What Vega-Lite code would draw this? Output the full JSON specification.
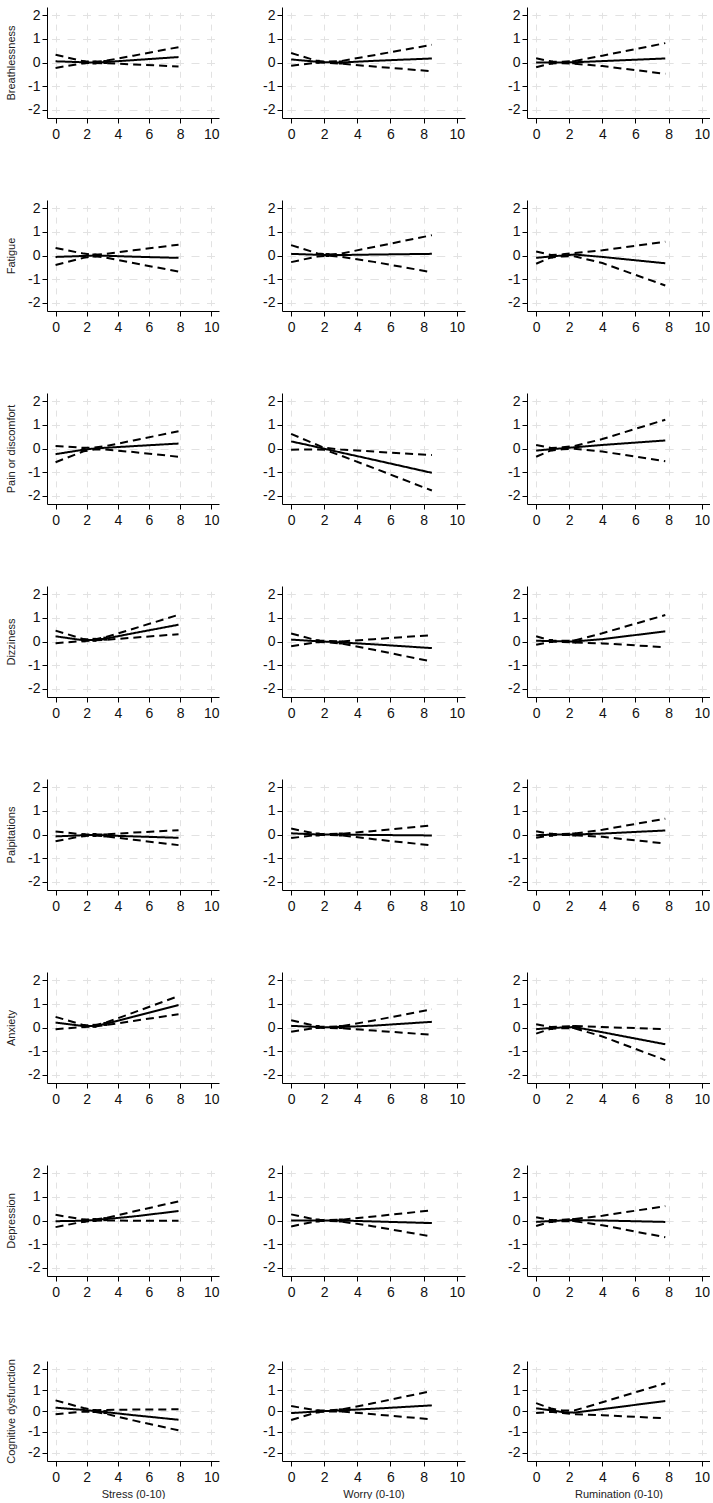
{
"$schema":"https://vega.github.io/schema/vega-lite/v6.json",
"padding":{"left":5,"top":7,"right":0,"bottom":0},
"background":"white",
"data":{"values":[
{"s":"B","p":"S","x":0,"e":0.05,"l":-0.23,"h":0.33},{"s":"B","p":"S","x":1.8,"e":0.01,"l":-0.03,"h":0.05,"k":1},{"s":"B","p":"S","x":2.5,"e":0,"l":-0.02,"h":0.03,"k":1},{"s":"B","p":"S","x":3.2,"e":0.02,"l":-0.03,"h":0.07,"k":1},{"s":"B","p":"S","x":5,"e":0.1,"l":-0.08,"h":0.29},{"s":"B","p":"S","x":7.9,"e":0.23,"l":-0.17,"h":0.65},
{"s":"B","p":"W","x":0,"e":0.13,"l":-0.14,"h":0.4},{"s":"B","p":"W","x":1.6,"e":0.03,"l":0,"h":0.06,"k":1},{"s":"B","p":"W","x":2.2,"e":0.01,"l":-0.02,"h":0.04},{"s":"B","p":"W","x":3,"e":0,"l":-0.05,"h":0.06,"k":1},{"s":"B","p":"W","x":5,"e":0.07,"l":-0.17,"h":0.31},{"s":"B","p":"W","x":8.5,"e":0.17,"l":-0.37,"h":0.75},
{"s":"B","p":"R","x":0,"e":0,"l":-0.2,"h":0.18},{"s":"B","p":"R","x":0.9,"e":0,"l":-0.04,"h":0.04,"k":1},{"s":"B","p":"R","x":1.6,"e":0,"l":-0.03,"h":0.03},{"s":"B","p":"R","x":2.3,"e":0.01,"l":-0.05,"h":0.06,"k":1},{"s":"B","p":"R","x":4,"e":0.06,"l":-0.15,"h":0.29},{"s":"B","p":"R","x":7.8,"e":0.17,"l":-0.48,"h":0.82},
{"s":"F","p":"S","x":0,"e":-0.06,"l":-0.4,"h":0.32},{"s":"F","p":"S","x":1.8,"e":-0.02,"l":-0.1,"h":0.08},{"s":"F","p":"S","x":2.5,"e":0,"l":-0.03,"h":0.03,"k":1},{"s":"F","p":"S","x":3.2,"e":-0.01,"l":-0.09,"h":0.07},{"s":"F","p":"S","x":5,"e":-0.05,"l":-0.32,"h":0.22},{"s":"F","p":"S","x":7.9,"e":-0.1,"l":-0.68,"h":0.46},
{"s":"F","p":"W","x":0,"e":0.07,"l":-0.28,"h":0.44},{"s":"F","p":"W","x":1.6,"e":0.03,"l":-0.04,"h":0.09},{"s":"F","p":"W","x":2.2,"e":0.02,"l":-0.01,"h":0.04,"k":1},{"s":"F","p":"W","x":3,"e":0.02,"l":-0.05,"h":0.08},{"s":"F","p":"W","x":5,"e":0.04,"l":-0.27,"h":0.36},{"s":"F","p":"W","x":8.5,"e":0.07,"l":-0.71,"h":0.86},
{"s":"F","p":"R","x":0,"e":-0.1,"l":-0.35,"h":0.17},{"s":"F","p":"R","x":0.9,"e":-0.04,"l":-0.08,"h":0.02,"k":1},{"s":"F","p":"R","x":1.6,"e":0,"l":-0.04,"h":0.05},{"s":"F","p":"R","x":2.3,"e":0.04,"l":-0.03,"h":0.1},{"s":"F","p":"R","x":4,"e":-0.06,"l":-0.32,"h":0.22},{"s":"F","p":"R","x":7.8,"e":-0.33,"l":-1.27,"h":0.58},
{"s":"P","p":"S","x":0,"e":-0.24,"l":-0.58,"h":0.11},{"s":"P","p":"S","x":1.8,"e":-0.05,"l":-0.12,"h":0.03,"k":1},{"s":"P","p":"S","x":2.5,"e":0,"l":-0.04,"h":0.04},{"s":"P","p":"S","x":3.2,"e":0.03,"l":-0.04,"h":0.1},{"s":"P","p":"S","x":5,"e":0.1,"l":-0.15,"h":0.34},{"s":"P","p":"S","x":7.9,"e":0.21,"l":-0.35,"h":0.73},
{"s":"P","p":"W","x":0,"e":0.3,"l":-0.05,"h":0.62},{"s":"P","p":"W","x":1,"e":0.15,"l":-0.04,"h":0.32},{"s":"P","p":"W","x":2,"e":-0.01,"l":-0.05,"h":0.03},{"s":"P","p":"W","x":3,"e":-0.17,"l":-0.3,"h":-0.04},{"s":"P","p":"W","x":5,"e":-0.48,"l":-0.83,"h":-0.13},{"s":"P","p":"W","x":8.5,"e":-1.03,"l":-1.78,"h":-0.28},
{"s":"P","p":"R","x":0,"e":-0.09,"l":-0.35,"h":0.15},{"s":"P","p":"R","x":0.9,"e":-0.03,"l":-0.08,"h":0.02,"k":1},{"s":"P","p":"R","x":1.6,"e":0.01,"l":-0.03,"h":0.05},{"s":"P","p":"R","x":2.3,"e":0.05,"l":-0.01,"h":0.1},{"s":"P","p":"R","x":4,"e":0.15,"l":-0.13,"h":0.4},{"s":"P","p":"R","x":7.8,"e":0.34,"l":-0.54,"h":1.22},
{"s":"D","p":"S","x":0,"e":0.22,"l":-0.07,"h":0.46},{"s":"D","p":"S","x":1.8,"e":0.05,"l":0.02,"h":0.1,"k":1},{"s":"D","p":"S","x":2.5,"e":0.07,"l":0.05,"h":0.09,"k":1},{"s":"D","p":"S","x":3.2,"e":0.12,"l":0.07,"h":0.18,"k":1},{"s":"D","p":"S","x":5,"e":0.35,"l":0.16,"h":0.54},{"s":"D","p":"S","x":7.9,"e":0.71,"l":0.31,"h":1.13},
{"s":"D","p":"W","x":0,"e":0.08,"l":-0.2,"h":0.34},{"s":"D","p":"W","x":1.6,"e":0.01,"l":-0.02,"h":0.04,"k":1},{"s":"D","p":"W","x":2.2,"e":-0.01,"l":-0.04,"h":0.02},{"s":"D","p":"W","x":3,"e":-0.04,"l":-0.08,"h":0,"k":1},{"s":"D","p":"W","x":5,"e":-0.12,"l":-0.35,"h":0.1},{"s":"D","p":"W","x":8.5,"e":-0.28,"l":-0.85,"h":0.27},
{"s":"D","p":"R","x":0,"e":0.03,"l":-0.14,"h":0.22},{"s":"D","p":"R","x":0.9,"e":0.02,"l":-0.01,"h":0.04,"k":1},{"s":"D","p":"R","x":1.6,"e":0.01,"l":-0.02,"h":0.03},{"s":"D","p":"R","x":2.3,"e":0,"l":-0.04,"h":0.04,"k":1},{"s":"D","p":"R","x":4,"e":0.1,"l":-0.08,"h":0.35},{"s":"D","p":"R","x":7.8,"e":0.43,"l":-0.24,"h":1.12},
{"s":"Pa","p":"S","x":0,"e":-0.08,"l":-0.29,"h":0.13},{"s":"Pa","p":"S","x":1.8,"e":-0.03,"l":-0.06,"h":0,"k":1},{"s":"Pa","p":"S","x":2.5,"e":-0.02,"l":-0.04,"h":0,"k":1},{"s":"Pa","p":"S","x":3.2,"e":-0.04,"l":-0.08,"h":0,"k":1},{"s":"Pa","p":"S","x":5,"e":-0.08,"l":-0.22,"h":0.08},{"s":"Pa","p":"S","x":7.9,"e":-0.14,"l":-0.45,"h":0.18},
{"s":"Pa","p":"W","x":0,"e":0.05,"l":-0.15,"h":0.25},{"s":"Pa","p":"W","x":1.6,"e":0,"l":-0.02,"h":0.02,"k":1},{"s":"Pa","p":"W","x":2.2,"e":0,"l":-0.02,"h":0.02},{"s":"Pa","p":"W","x":3,"e":0,"l":-0.03,"h":0.03,"k":1},{"s":"Pa","p":"W","x":5,"e":-0.02,"l":-0.2,"h":0.15},{"s":"Pa","p":"W","x":8.5,"e":-0.04,"l":-0.46,"h":0.39},
{"s":"Pa","p":"R","x":0,"e":-0.03,"l":-0.14,"h":0.14},{"s":"Pa","p":"R","x":0.9,"e":-0.01,"l":-0.03,"h":0.02,"k":1},{"s":"Pa","p":"R","x":1.6,"e":0,"l":-0.02,"h":0.02},{"s":"Pa","p":"R","x":2.3,"e":0,"l":-0.03,"h":0.04,"k":1},{"s":"Pa","p":"R","x":4,"e":0.04,"l":-0.1,"h":0.2},{"s":"Pa","p":"R","x":7.8,"e":0.17,"l":-0.38,"h":0.67},
{"s":"A","p":"S","x":0,"e":0.21,"l":-0.07,"h":0.45},{"s":"A","p":"S","x":1.8,"e":0.06,"l":0.02,"h":0.1,"k":1},{"s":"A","p":"S","x":2.5,"e":0.07,"l":0.04,"h":0.1,"k":1},{"s":"A","p":"S","x":3.2,"e":0.15,"l":0.1,"h":0.2,"k":1},{"s":"A","p":"S","x":5,"e":0.46,"l":0.28,"h":0.63},{"s":"A","p":"S","x":7.9,"e":0.95,"l":0.56,"h":1.33},
{"s":"A","p":"W","x":0,"e":0.07,"l":-0.18,"h":0.31},{"s":"A","p":"W","x":1.6,"e":0.02,"l":-0.01,"h":0.04,"k":1},{"s":"A","p":"W","x":2.2,"e":0.01,"l":-0.02,"h":0.03},{"s":"A","p":"W","x":3,"e":0.02,"l":-0.03,"h":0.05,"k":1},{"s":"A","p":"W","x":5,"e":0.08,"l":-0.13,"h":0.3},{"s":"A","p":"W","x":8.5,"e":0.24,"l":-0.31,"h":0.77},
{"s":"A","p":"R","x":0,"e":-0.07,"l":-0.26,"h":0.14},{"s":"A","p":"R","x":0.9,"e":-0.02,"l":-0.05,"h":0.02,"k":1},{"s":"A","p":"R","x":1.6,"e":0,"l":-0.03,"h":0.04},{"s":"A","p":"R","x":2.3,"e":0.02,"l":-0.03,"h":0.06,"k":1},{"s":"A","p":"R","x":4,"e":-0.2,"l":-0.38,"h":0.02},{"s":"A","p":"R","x":7.8,"e":-0.71,"l":-1.38,"h":-0.07},
{"s":"De","p":"S","x":0,"e":-0.03,"l":-0.28,"h":0.24},{"s":"De","p":"S","x":1.8,"e":-0.01,"l":-0.05,"h":0.04,"k":1},{"s":"De","p":"S","x":2.5,"e":0.02,"l":-0.01,"h":0.04,"k":1},{"s":"De","p":"S","x":3.2,"e":0.06,"l":0,"h":0.1,"k":1},{"s":"De","p":"S","x":5,"e":0.17,"l":-0.01,"h":0.38},{"s":"De","p":"S","x":7.9,"e":0.4,"l":-0.01,"h":0.81},
{"s":"De","p":"W","x":0,"e":0,"l":-0.25,"h":0.26},{"s":"De","p":"W","x":1.6,"e":0,"l":-0.02,"h":0.02,"k":1},{"s":"De","p":"W","x":2.2,"e":0,"l":-0.02,"h":0.02},{"s":"De","p":"W","x":3,"e":0,"l":-0.04,"h":0.03,"k":1},{"s":"De","p":"W","x":5,"e":-0.04,"l":-0.25,"h":0.17},{"s":"De","p":"W","x":8.5,"e":-0.11,"l":-0.68,"h":0.43},
{"s":"De","p":"R","x":0,"e":-0.06,"l":-0.23,"h":0.14},{"s":"De","p":"R","x":0.9,"e":-0.02,"l":-0.05,"h":0.01,"k":1},{"s":"De","p":"R","x":1.6,"e":0,"l":-0.03,"h":0.03},{"s":"De","p":"R","x":2.3,"e":0.02,"l":-0.03,"h":0.06,"k":1},{"s":"De","p":"R","x":4,"e":0,"l":-0.2,"h":0.2},{"s":"De","p":"R","x":7.8,"e":-0.06,"l":-0.71,"h":0.61},
{"s":"C","p":"S","x":0,"e":0.16,"l":-0.16,"h":0.51},{"s":"C","p":"S","x":1.8,"e":0.05,"l":-0.03,"h":0.14},{"s":"C","p":"S","x":2.5,"e":0,"l":-0.04,"h":0.04,"k":1},{"s":"C","p":"S","x":3.2,"e":-0.05,"l":-0.13,"h":0.05,"k":1},{"s":"C","p":"S","x":5,"e":-0.2,"l":-0.45,"h":0.07},{"s":"C","p":"S","x":7.9,"e":-0.42,"l":-0.93,"h":0.08},
{"s":"C","p":"W","x":0,"e":-0.1,"l":-0.43,"h":0.24},{"s":"C","p":"W","x":1.6,"e":-0.02,"l":-0.05,"h":0.02,"k":1},{"s":"C","p":"W","x":2.2,"e":0,"l":-0.03,"h":0.03},{"s":"C","p":"W","x":3,"e":0.03,"l":-0.02,"h":0.07,"k":1},{"s":"C","p":"W","x":5,"e":0.11,"l":-0.16,"h":0.38},{"s":"C","p":"W","x":8.5,"e":0.27,"l":-0.4,"h":0.96},
{"s":"C","p":"R","x":0,"e":0.13,"l":-0.1,"h":0.38},{"s":"C","p":"R","x":0.9,"e":0.03,"l":-0.04,"h":0.12,"k":1},{"s":"C","p":"R","x":1.6,"e":-0.05,"l":-0.1,"h":0.02},{"s":"C","p":"R","x":2.3,"e":-0.08,"l":-0.15,"h":0.02},{"s":"C","p":"R","x":4,"e":0.09,"l":-0.2,"h":0.42},{"s":"C","p":"R","x":7.8,"e":0.48,"l":-0.35,"h":1.33}
]},
"transform":[{"fold":["e","l","h"],"as":["t","v"]}],
"columns":3,
"align":"each",
"spacing":{"row":59,"column":42},
"concat":[
{"width":172,"height":111,"transform":[{"filter":"datum.s=='B'&&datum.p=='S'"}],"encoding":{"x":{"field":"x","type":"quantitative","scale":{"domain":[-0.55,10.5],"nice":false,"zero":false},"axis":{"title":null,"values":[0,2,4,6,8,10],"gridDash":[6,5.8],"gridDashOffset":6.5}},"y":{"field":"v","type":"quantitative","scale":{"domain":[-2.35,2.35],"nice":false,"zero":false},"axis":{"title":"Breathlessness","values":[-2,-1,0,1,2],"labelExpr":"''+datum.value","gridDash":[8,7.5],"gridDashOffset":11}}},"layer":[{"mark":"line","encoding":{"detail":{"field":"t"},"strokeDash":{"field":"t","type":"nominal","scale":{"domain":["e","l","h"],"range":[[1,0],[8,5],[8,5]]},"legend":null}}},{"transform":[{"filter":"datum.t=='e'&&datum.k==1"}],"mark":"square"}]},
{"width":183,"height":111,"transform":[{"filter":"datum.s=='B'&&datum.p=='W'"}],"encoding":{"x":{"field":"x","type":"quantitative","scale":{"domain":[-0.55,10.5],"nice":false,"zero":false},"axis":{"title":null,"values":[0,2,4,6,8,10],"gridDash":[6,5.8],"gridDashOffset":6.5}},"y":{"field":"v","type":"quantitative","scale":{"domain":[-2.35,2.35],"nice":false,"zero":false},"axis":{"title":null,"values":[-2,-1,0,1,2],"labelExpr":"''+datum.value","gridDash":[8.5,8.1],"gridDashOffset":11.75}}},"layer":[{"mark":"line","encoding":{"detail":{"field":"t"},"strokeDash":{"field":"t","type":"nominal","scale":{"domain":["e","l","h"],"range":[[1,0],[8,5],[8,5]]},"legend":null}}},{"transform":[{"filter":"datum.t=='e'&&datum.k==1"}],"mark":"square"}]},
{"width":183,"height":111,"transform":[{"filter":"datum.s=='B'&&datum.p=='R'"}],"encoding":{"x":{"field":"x","type":"quantitative","scale":{"domain":[-0.55,10.5],"nice":false,"zero":false},"axis":{"title":null,"values":[0,2,4,6,8,10],"gridDash":[6,5.8],"gridDashOffset":6.5}},"y":{"field":"v","type":"quantitative","scale":{"domain":[-2.35,2.35],"nice":false,"zero":false},"axis":{"title":null,"values":[-2,-1,0,1,2],"labelExpr":"''+datum.value","gridDash":[8.5,8.1],"gridDashOffset":11.75}}},"layer":[{"mark":"line","encoding":{"detail":{"field":"t"},"strokeDash":{"field":"t","type":"nominal","scale":{"domain":["e","l","h"],"range":[[1,0],[8,5],[8,5]]},"legend":null}}},{"transform":[{"filter":"datum.t=='e'&&datum.k==1"}],"mark":"square"}]},
{"width":172,"height":111,"transform":[{"filter":"datum.s=='F'&&datum.p=='S'"}],"encoding":{"x":{"field":"x","type":"quantitative","scale":{"domain":[-0.55,10.5],"nice":false,"zero":false},"axis":{"title":null,"values":[0,2,4,6,8,10],"gridDash":[6,5.8],"gridDashOffset":6.5}},"y":{"field":"v","type":"quantitative","scale":{"domain":[-2.35,2.35],"nice":false,"zero":false},"axis":{"title":"Fatigue","values":[-2,-1,0,1,2],"labelExpr":"''+datum.value","gridDash":[8,7.5],"gridDashOffset":11}}},"layer":[{"mark":"line","encoding":{"detail":{"field":"t"},"strokeDash":{"field":"t","type":"nominal","scale":{"domain":["e","l","h"],"range":[[1,0],[8,5],[8,5]]},"legend":null}}},{"transform":[{"filter":"datum.t=='e'&&datum.k==1"}],"mark":"square"}]},
{"width":183,"height":111,"transform":[{"filter":"datum.s=='F'&&datum.p=='W'"}],"encoding":{"x":{"field":"x","type":"quantitative","scale":{"domain":[-0.55,10.5],"nice":false,"zero":false},"axis":{"title":null,"values":[0,2,4,6,8,10],"gridDash":[6,5.8],"gridDashOffset":6.5}},"y":{"field":"v","type":"quantitative","scale":{"domain":[-2.35,2.35],"nice":false,"zero":false},"axis":{"title":null,"values":[-2,-1,0,1,2],"labelExpr":"''+datum.value","gridDash":[8.5,8.1],"gridDashOffset":11.75}}},"layer":[{"mark":"line","encoding":{"detail":{"field":"t"},"strokeDash":{"field":"t","type":"nominal","scale":{"domain":["e","l","h"],"range":[[1,0],[8,5],[8,5]]},"legend":null}}},{"transform":[{"filter":"datum.t=='e'&&datum.k==1"}],"mark":"square"}]},
{"width":183,"height":111,"transform":[{"filter":"datum.s=='F'&&datum.p=='R'"}],"encoding":{"x":{"field":"x","type":"quantitative","scale":{"domain":[-0.55,10.5],"nice":false,"zero":false},"axis":{"title":null,"values":[0,2,4,6,8,10],"gridDash":[6,5.8],"gridDashOffset":6.5}},"y":{"field":"v","type":"quantitative","scale":{"domain":[-2.35,2.35],"nice":false,"zero":false},"axis":{"title":null,"values":[-2,-1,0,1,2],"labelExpr":"''+datum.value","gridDash":[8.5,8.1],"gridDashOffset":11.75}}},"layer":[{"mark":"line","encoding":{"detail":{"field":"t"},"strokeDash":{"field":"t","type":"nominal","scale":{"domain":["e","l","h"],"range":[[1,0],[8,5],[8,5]]},"legend":null}}},{"transform":[{"filter":"datum.t=='e'&&datum.k==1"}],"mark":"square"}]},
{"width":172,"height":111,"transform":[{"filter":"datum.s=='P'&&datum.p=='S'"}],"encoding":{"x":{"field":"x","type":"quantitative","scale":{"domain":[-0.55,10.5],"nice":false,"zero":false},"axis":{"title":null,"values":[0,2,4,6,8,10],"gridDash":[6,5.8],"gridDashOffset":6.5}},"y":{"field":"v","type":"quantitative","scale":{"domain":[-2.35,2.35],"nice":false,"zero":false},"axis":{"title":"Pain or discomfort","values":[-2,-1,0,1,2],"labelExpr":"''+datum.value","gridDash":[8,7.5],"gridDashOffset":11}}},"layer":[{"mark":"line","encoding":{"detail":{"field":"t"},"strokeDash":{"field":"t","type":"nominal","scale":{"domain":["e","l","h"],"range":[[1,0],[8,5],[8,5]]},"legend":null}}},{"transform":[{"filter":"datum.t=='e'&&datum.k==1"}],"mark":"square"}]},
{"width":183,"height":111,"transform":[{"filter":"datum.s=='P'&&datum.p=='W'"}],"encoding":{"x":{"field":"x","type":"quantitative","scale":{"domain":[-0.55,10.5],"nice":false,"zero":false},"axis":{"title":null,"values":[0,2,4,6,8,10],"gridDash":[6,5.8],"gridDashOffset":6.5}},"y":{"field":"v","type":"quantitative","scale":{"domain":[-2.35,2.35],"nice":false,"zero":false},"axis":{"title":null,"values":[-2,-1,0,1,2],"labelExpr":"''+datum.value","gridDash":[8.5,8.1],"gridDashOffset":11.75}}},"layer":[{"mark":"line","encoding":{"detail":{"field":"t"},"strokeDash":{"field":"t","type":"nominal","scale":{"domain":["e","l","h"],"range":[[1,0],[8,5],[8,5]]},"legend":null}}},{"transform":[{"filter":"datum.t=='e'&&datum.k==1"}],"mark":"square"}]},
{"width":183,"height":111,"transform":[{"filter":"datum.s=='P'&&datum.p=='R'"}],"encoding":{"x":{"field":"x","type":"quantitative","scale":{"domain":[-0.55,10.5],"nice":false,"zero":false},"axis":{"title":null,"values":[0,2,4,6,8,10],"gridDash":[6,5.8],"gridDashOffset":6.5}},"y":{"field":"v","type":"quantitative","scale":{"domain":[-2.35,2.35],"nice":false,"zero":false},"axis":{"title":null,"values":[-2,-1,0,1,2],"labelExpr":"''+datum.value","gridDash":[8.5,8.1],"gridDashOffset":11.75}}},"layer":[{"mark":"line","encoding":{"detail":{"field":"t"},"strokeDash":{"field":"t","type":"nominal","scale":{"domain":["e","l","h"],"range":[[1,0],[8,5],[8,5]]},"legend":null}}},{"transform":[{"filter":"datum.t=='e'&&datum.k==1"}],"mark":"square"}]},
{"width":172,"height":111,"transform":[{"filter":"datum.s=='D'&&datum.p=='S'"}],"encoding":{"x":{"field":"x","type":"quantitative","scale":{"domain":[-0.55,10.5],"nice":false,"zero":false},"axis":{"title":null,"values":[0,2,4,6,8,10],"gridDash":[6,5.8],"gridDashOffset":6.5}},"y":{"field":"v","type":"quantitative","scale":{"domain":[-2.35,2.35],"nice":false,"zero":false},"axis":{"title":"Dizziness","values":[-2,-1,0,1,2],"labelExpr":"''+datum.value","gridDash":[8,7.5],"gridDashOffset":11}}},"layer":[{"mark":"line","encoding":{"detail":{"field":"t"},"strokeDash":{"field":"t","type":"nominal","scale":{"domain":["e","l","h"],"range":[[1,0],[8,5],[8,5]]},"legend":null}}},{"transform":[{"filter":"datum.t=='e'&&datum.k==1"}],"mark":"square"}]},
{"width":183,"height":111,"transform":[{"filter":"datum.s=='D'&&datum.p=='W'"}],"encoding":{"x":{"field":"x","type":"quantitative","scale":{"domain":[-0.55,10.5],"nice":false,"zero":false},"axis":{"title":null,"values":[0,2,4,6,8,10],"gridDash":[6,5.8],"gridDashOffset":6.5}},"y":{"field":"v","type":"quantitative","scale":{"domain":[-2.35,2.35],"nice":false,"zero":false},"axis":{"title":null,"values":[-2,-1,0,1,2],"labelExpr":"''+datum.value","gridDash":[8.5,8.1],"gridDashOffset":11.75}}},"layer":[{"mark":"line","encoding":{"detail":{"field":"t"},"strokeDash":{"field":"t","type":"nominal","scale":{"domain":["e","l","h"],"range":[[1,0],[8,5],[8,5]]},"legend":null}}},{"transform":[{"filter":"datum.t=='e'&&datum.k==1"}],"mark":"square"}]},
{"width":183,"height":111,"transform":[{"filter":"datum.s=='D'&&datum.p=='R'"}],"encoding":{"x":{"field":"x","type":"quantitative","scale":{"domain":[-0.55,10.5],"nice":false,"zero":false},"axis":{"title":null,"values":[0,2,4,6,8,10],"gridDash":[6,5.8],"gridDashOffset":6.5}},"y":{"field":"v","type":"quantitative","scale":{"domain":[-2.35,2.35],"nice":false,"zero":false},"axis":{"title":null,"values":[-2,-1,0,1,2],"labelExpr":"''+datum.value","gridDash":[8.5,8.1],"gridDashOffset":11.75}}},"layer":[{"mark":"line","encoding":{"detail":{"field":"t"},"strokeDash":{"field":"t","type":"nominal","scale":{"domain":["e","l","h"],"range":[[1,0],[8,5],[8,5]]},"legend":null}}},{"transform":[{"filter":"datum.t=='e'&&datum.k==1"}],"mark":"square"}]},
{"width":172,"height":111,"transform":[{"filter":"datum.s=='Pa'&&datum.p=='S'"}],"encoding":{"x":{"field":"x","type":"quantitative","scale":{"domain":[-0.55,10.5],"nice":false,"zero":false},"axis":{"title":null,"values":[0,2,4,6,8,10],"gridDash":[6,5.8],"gridDashOffset":6.5}},"y":{"field":"v","type":"quantitative","scale":{"domain":[-2.35,2.35],"nice":false,"zero":false},"axis":{"title":"Palpitations","values":[-2,-1,0,1,2],"labelExpr":"''+datum.value","gridDash":[8,7.5],"gridDashOffset":11}}},"layer":[{"mark":"line","encoding":{"detail":{"field":"t"},"strokeDash":{"field":"t","type":"nominal","scale":{"domain":["e","l","h"],"range":[[1,0],[8,5],[8,5]]},"legend":null}}},{"transform":[{"filter":"datum.t=='e'&&datum.k==1"}],"mark":"square"}]},
{"width":183,"height":111,"transform":[{"filter":"datum.s=='Pa'&&datum.p=='W'"}],"encoding":{"x":{"field":"x","type":"quantitative","scale":{"domain":[-0.55,10.5],"nice":false,"zero":false},"axis":{"title":null,"values":[0,2,4,6,8,10],"gridDash":[6,5.8],"gridDashOffset":6.5}},"y":{"field":"v","type":"quantitative","scale":{"domain":[-2.35,2.35],"nice":false,"zero":false},"axis":{"title":null,"values":[-2,-1,0,1,2],"labelExpr":"''+datum.value","gridDash":[8.5,8.1],"gridDashOffset":11.75}}},"layer":[{"mark":"line","encoding":{"detail":{"field":"t"},"strokeDash":{"field":"t","type":"nominal","scale":{"domain":["e","l","h"],"range":[[1,0],[8,5],[8,5]]},"legend":null}}},{"transform":[{"filter":"datum.t=='e'&&datum.k==1"}],"mark":"square"}]},
{"width":183,"height":111,"transform":[{"filter":"datum.s=='Pa'&&datum.p=='R'"}],"encoding":{"x":{"field":"x","type":"quantitative","scale":{"domain":[-0.55,10.5],"nice":false,"zero":false},"axis":{"title":null,"values":[0,2,4,6,8,10],"gridDash":[6,5.8],"gridDashOffset":6.5}},"y":{"field":"v","type":"quantitative","scale":{"domain":[-2.35,2.35],"nice":false,"zero":false},"axis":{"title":null,"values":[-2,-1,0,1,2],"labelExpr":"''+datum.value","gridDash":[8.5,8.1],"gridDashOffset":11.75}}},"layer":[{"mark":"line","encoding":{"detail":{"field":"t"},"strokeDash":{"field":"t","type":"nominal","scale":{"domain":["e","l","h"],"range":[[1,0],[8,5],[8,5]]},"legend":null}}},{"transform":[{"filter":"datum.t=='e'&&datum.k==1"}],"mark":"square"}]},
{"width":172,"height":111,"transform":[{"filter":"datum.s=='A'&&datum.p=='S'"}],"encoding":{"x":{"field":"x","type":"quantitative","scale":{"domain":[-0.55,10.5],"nice":false,"zero":false},"axis":{"title":null,"values":[0,2,4,6,8,10],"gridDash":[6,5.8],"gridDashOffset":6.5}},"y":{"field":"v","type":"quantitative","scale":{"domain":[-2.35,2.35],"nice":false,"zero":false},"axis":{"title":"Anxiety","values":[-2,-1,0,1,2],"labelExpr":"''+datum.value","gridDash":[8,7.5],"gridDashOffset":11}}},"layer":[{"mark":"line","encoding":{"detail":{"field":"t"},"strokeDash":{"field":"t","type":"nominal","scale":{"domain":["e","l","h"],"range":[[1,0],[8,5],[8,5]]},"legend":null}}},{"transform":[{"filter":"datum.t=='e'&&datum.k==1"}],"mark":"square"}]},
{"width":183,"height":111,"transform":[{"filter":"datum.s=='A'&&datum.p=='W'"}],"encoding":{"x":{"field":"x","type":"quantitative","scale":{"domain":[-0.55,10.5],"nice":false,"zero":false},"axis":{"title":null,"values":[0,2,4,6,8,10],"gridDash":[6,5.8],"gridDashOffset":6.5}},"y":{"field":"v","type":"quantitative","scale":{"domain":[-2.35,2.35],"nice":false,"zero":false},"axis":{"title":null,"values":[-2,-1,0,1,2],"labelExpr":"''+datum.value","gridDash":[8.5,8.1],"gridDashOffset":11.75}}},"layer":[{"mark":"line","encoding":{"detail":{"field":"t"},"strokeDash":{"field":"t","type":"nominal","scale":{"domain":["e","l","h"],"range":[[1,0],[8,5],[8,5]]},"legend":null}}},{"transform":[{"filter":"datum.t=='e'&&datum.k==1"}],"mark":"square"}]},
{"width":183,"height":111,"transform":[{"filter":"datum.s=='A'&&datum.p=='R'"}],"encoding":{"x":{"field":"x","type":"quantitative","scale":{"domain":[-0.55,10.5],"nice":false,"zero":false},"axis":{"title":null,"values":[0,2,4,6,8,10],"gridDash":[6,5.8],"gridDashOffset":6.5}},"y":{"field":"v","type":"quantitative","scale":{"domain":[-2.35,2.35],"nice":false,"zero":false},"axis":{"title":null,"values":[-2,-1,0,1,2],"labelExpr":"''+datum.value","gridDash":[8.5,8.1],"gridDashOffset":11.75}}},"layer":[{"mark":"line","encoding":{"detail":{"field":"t"},"strokeDash":{"field":"t","type":"nominal","scale":{"domain":["e","l","h"],"range":[[1,0],[8,5],[8,5]]},"legend":null}}},{"transform":[{"filter":"datum.t=='e'&&datum.k==1"}],"mark":"square"}]},
{"width":172,"height":111,"transform":[{"filter":"datum.s=='De'&&datum.p=='S'"}],"encoding":{"x":{"field":"x","type":"quantitative","scale":{"domain":[-0.55,10.5],"nice":false,"zero":false},"axis":{"title":null,"values":[0,2,4,6,8,10],"gridDash":[6,5.8],"gridDashOffset":6.5}},"y":{"field":"v","type":"quantitative","scale":{"domain":[-2.35,2.35],"nice":false,"zero":false},"axis":{"title":"Depression","values":[-2,-1,0,1,2],"labelExpr":"''+datum.value","gridDash":[8,7.5],"gridDashOffset":11}}},"layer":[{"mark":"line","encoding":{"detail":{"field":"t"},"strokeDash":{"field":"t","type":"nominal","scale":{"domain":["e","l","h"],"range":[[1,0],[8,5],[8,5]]},"legend":null}}},{"transform":[{"filter":"datum.t=='e'&&datum.k==1"}],"mark":"square"}]},
{"width":183,"height":111,"transform":[{"filter":"datum.s=='De'&&datum.p=='W'"}],"encoding":{"x":{"field":"x","type":"quantitative","scale":{"domain":[-0.55,10.5],"nice":false,"zero":false},"axis":{"title":null,"values":[0,2,4,6,8,10],"gridDash":[6,5.8],"gridDashOffset":6.5}},"y":{"field":"v","type":"quantitative","scale":{"domain":[-2.35,2.35],"nice":false,"zero":false},"axis":{"title":null,"values":[-2,-1,0,1,2],"labelExpr":"''+datum.value","gridDash":[8.5,8.1],"gridDashOffset":11.75}}},"layer":[{"mark":"line","encoding":{"detail":{"field":"t"},"strokeDash":{"field":"t","type":"nominal","scale":{"domain":["e","l","h"],"range":[[1,0],[8,5],[8,5]]},"legend":null}}},{"transform":[{"filter":"datum.t=='e'&&datum.k==1"}],"mark":"square"}]},
{"width":183,"height":111,"transform":[{"filter":"datum.s=='De'&&datum.p=='R'"}],"encoding":{"x":{"field":"x","type":"quantitative","scale":{"domain":[-0.55,10.5],"nice":false,"zero":false},"axis":{"title":null,"values":[0,2,4,6,8,10],"gridDash":[6,5.8],"gridDashOffset":6.5}},"y":{"field":"v","type":"quantitative","scale":{"domain":[-2.35,2.35],"nice":false,"zero":false},"axis":{"title":null,"values":[-2,-1,0,1,2],"labelExpr":"''+datum.value","gridDash":[8.5,8.1],"gridDashOffset":11.75}}},"layer":[{"mark":"line","encoding":{"detail":{"field":"t"},"strokeDash":{"field":"t","type":"nominal","scale":{"domain":["e","l","h"],"range":[[1,0],[8,5],[8,5]]},"legend":null}}},{"transform":[{"filter":"datum.t=='e'&&datum.k==1"}],"mark":"square"}]},
{"width":172,"height":100,"transform":[{"filter":"datum.s=='C'&&datum.p=='S'"}],"encoding":{"x":{"field":"x","type":"quantitative","scale":{"domain":[-0.55,10.5],"nice":false,"zero":false},"axis":{"title":"Stress (0-10)","values":[0,2,4,6,8,10],"gridDash":[5.4,5],"gridDashOffset":4.8}},"y":{"field":"v","type":"quantitative","scale":{"domain":[-2.4,2.4],"nice":false,"zero":false},"axis":{"title":"Cognitive dysfunction","values":[-2,-1,0,1,2],"labelExpr":"''+datum.value","gridDash":[8,7.5],"gridDashOffset":11}}},"layer":[{"mark":"line","encoding":{"detail":{"field":"t"},"strokeDash":{"field":"t","type":"nominal","scale":{"domain":["e","l","h"],"range":[[1,0],[8,5],[8,5]]},"legend":null}}},{"transform":[{"filter":"datum.t=='e'&&datum.k==1"}],"mark":"square"}]},
{"width":183,"height":100,"transform":[{"filter":"datum.s=='C'&&datum.p=='W'"}],"encoding":{"x":{"field":"x","type":"quantitative","scale":{"domain":[-0.55,10.5],"nice":false,"zero":false},"axis":{"title":"Worry (0-10)","values":[0,2,4,6,8,10],"gridDash":[5.4,5],"gridDashOffset":4.8}},"y":{"field":"v","type":"quantitative","scale":{"domain":[-2.4,2.4],"nice":false,"zero":false},"axis":{"title":null,"values":[-2,-1,0,1,2],"labelExpr":"''+datum.value","gridDash":[8.5,8.1],"gridDashOffset":11.75}}},"layer":[{"mark":"line","encoding":{"detail":{"field":"t"},"strokeDash":{"field":"t","type":"nominal","scale":{"domain":["e","l","h"],"range":[[1,0],[8,5],[8,5]]},"legend":null}}},{"transform":[{"filter":"datum.t=='e'&&datum.k==1"}],"mark":"square"}]},
{"width":183,"height":100,"transform":[{"filter":"datum.s=='C'&&datum.p=='R'"}],"encoding":{"x":{"field":"x","type":"quantitative","scale":{"domain":[-0.55,10.5],"nice":false,"zero":false},"axis":{"title":"Rumination (0-10)","values":[0,2,4,6,8,10],"gridDash":[5.4,5],"gridDashOffset":4.8}},"y":{"field":"v","type":"quantitative","scale":{"domain":[-2.4,2.4],"nice":false,"zero":false},"axis":{"title":null,"values":[-2,-1,0,1,2],"labelExpr":"''+datum.value","gridDash":[8.5,8.1],"gridDashOffset":11.75}}},"layer":[{"mark":"line","encoding":{"detail":{"field":"t"},"strokeDash":{"field":"t","type":"nominal","scale":{"domain":["e","l","h"],"range":[[1,0],[8,5],[8,5]]},"legend":null}}},{"transform":[{"filter":"datum.t=='e'&&datum.k==1"}],"mark":"square"}]}
],
"config":{
"font":"Liberation Sans",
"view":{"stroke":null},
"axis":{"domainColor":"#000","domainWidth":1,"tickColor":"#000","tickSize":5,"tickWidth":1,"labelFontSize":14,"labelColor":"#111","grid":true,"gridColor":"#e2e2e2","gridWidth":1,"titleFontSize":11,"titleFontWeight":"normal","titleColor":"#222","labelFlush":false,"labelOverlap":false},
"axisX":{"labelPadding":4,"titlePadding":4},
"axisY":{"labelPadding":2,"titlePadding":11},
"line":{"color":"#000","strokeWidth":2},
"square":{"color":"#000","filled":true,"size":16,"opacity":1}
}
}
